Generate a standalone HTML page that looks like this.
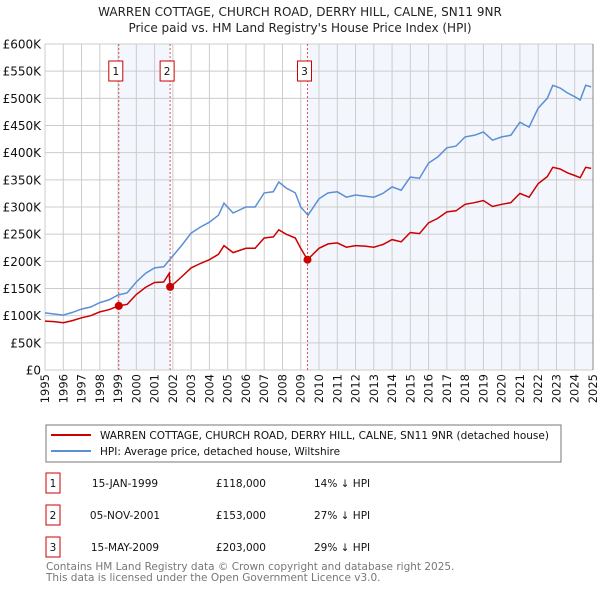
<!DOCTYPE html>
<html><head><meta charset="utf-8"><style>
body{margin:0;background:#fff;}
svg text{font-family:"DejaVu Sans","Liberation Sans",sans-serif;}
</style></head><body>
<svg id="c" width="600" height="590" xmlns="http://www.w3.org/2000/svg">
<text x="300" y="16" text-anchor="middle" font-size="12" fill="#222">WARREN COTTAGE, CHURCH ROAD, DERRY HILL, CALNE, SN11 9NR</text>
<text x="300" y="32" text-anchor="middle" font-size="12" fill="#222">Price paid vs. HM Land Registry's House Price Index (HPI)</text>
<g id="plot"></g>
<g>
<rect x="46" y="425" width="515" height="37" fill="#fff" stroke="#777"/>
<line x1="51" y1="435" x2="91" y2="435" stroke="#cc0000" stroke-width="2"/>
<text x="100" y="439" font-size="10.5" fill="#111">WARREN COTTAGE, CHURCH ROAD, DERRY HILL, CALNE, SN11 9NR (detached house)</text>
<line x1="51" y1="451" x2="91" y2="451" stroke="#5b8fd4" stroke-width="2"/>
<text x="100" y="455" font-size="10.5" fill="#111">HPI: Average price, detached house, Wiltshire</text>
</g>
<g id="table" font-size="10.5" fill="#111"></g>
<text x="46" y="570" font-size="10.5" fill="#777">Contains HM Land Registry data © Crown copyright and database right 2025.</text>
<text x="46" y="581" font-size="10.5" fill="#777">This data is licensed under the Open Government Licence v3.0.</text>
</svg>
<script>
const yTicks=[0,50,100,150,200,250,300,350,400,450,500,550,600];
const yTickLabels=["£0","£50K","£100K","£150K","£200K","£250K","£300K","£350K","£400K","£450K","£500K","£550K","£600K"];
const years=[1995,1996,1997,1998,1999,2000,2001,2002,2003,2004,2005,2006,2007,2008,2009,2010,2011,2012,2013,2014,2015,2016,2017,2018,2019,2020,2021,2022,2023,2024,2025];
const hpiT=[1995,1995.5,1996,1996.5,1997,1997.5,1998,1998.5,1999,1999.5,2000,2000.5,2001,2001.5,2002,2002.5,2003,2003.5,2004,2004.5,2004.8,2005.3,2006,2006.5,2007,2007.5,2007.8,2008.2,2008.7,2009,2009.4,2010,2010.5,2011,2011.5,2012,2012.5,2013,2013.5,2014,2014.5,2015,2015.5,2016,2016.5,2017,2017.5,2018,2018.5,2019,2019.5,2020,2020.5,2021,2021.5,2022,2022.5,2022.8,2023.2,2023.6,2024,2024.3,2024.6,2024.9];
const hpiV=[105,103,101,106,112,116,124,129,138,142,162,178,188,190,210,230,252,263,272,285,307,289,300,300,326,328,346,335,326,300,285,315,326,328,318,322,320,318,325,337,331,355,353,381,392,409,412,429,432,438,423,429,432,456,447,482,500,524,519,510,503,497,524,521];
const priceT=[1995,1995.5,1996,1996.5,1997,1997.5,1998,1998.5,1999.04,1999.5,2000,2000.5,2001,2001.5,2001.8,2001.85,2002,2002.5,2003,2003.5,2004,2004.5,2004.8,2005.3,2006,2006.5,2007,2007.5,2007.8,2008.2,2008.7,2009,2009.37,2010,2010.5,2011,2011.5,2012,2012.5,2013,2013.5,2014,2014.5,2015,2015.5,2016,2016.5,2017,2017.5,2018,2018.5,2019,2019.5,2020,2020.5,2021,2021.5,2022,2022.5,2022.8,2023.2,2023.6,2024,2024.3,2024.6,2024.9];
const priceV=[90,89,87,91,96,100,107,111,118,121,139,152,161,162,178,153,157,172,188,196,203,213,229,216,224,224,243,245,258,250,243,224,203,224,232,234,226,229,228,226,231,240,236,253,251,271,279,291,293,305,308,312,301,305,308,325,318,343,356,373,370,363,358,354,373,371];
const saleT=[1999.04,2001.85,2009.37];
const saleV=[118,153,203];
const saleLabels=["1","2","3"];
const saleDates=["15-JAN-1999","05-NOV-2001","15-MAY-2009"];
const salePrices=["£118,000","£153,000","£203,000"];
const saleDiffs=["14% ↓ HPI","27% ↓ HPI","29% ↓ HPI"];

const X0=45,X1=593,Y0=370,Y1=44;
const xs=t=>X0+(t-1995)/30*(X1-X0);
const ys=v=>Y0-v/600*(Y0-Y1);
const NS="http://www.w3.org/2000/svg";
const plot=document.getElementById('plot');
function mk(tag,attrs,parent){const e=document.createElementNS(NS,tag);for(const k in attrs)e.setAttribute(k,attrs[k]);(parent||plot).appendChild(e);return e;}

let bg=mk('rect',{x:X0,y:Y1,width:X1-X0,height:Y0-Y1,fill:'#fff'});


let sh1=mk('rect',{x:xs(saleT[0]),y:Y1,width:xs(saleT[1])-xs(saleT[0]),height:Y0-Y1,fill:'#f3f7fd'});


let sh2=mk('rect',{x:xs(saleT[2]),y:Y1,width:X1-xs(saleT[2]),height:Y0-Y1,fill:'#f3f7fd'});



yTicks.forEach((v,i)=>{
  let l=mk('line',{x1:X0,x2:X1,y1:ys(v),y2:ys(v),stroke:'#cccccc','stroke-width':1});
  
  
  let t=mk('text',{x:41,y:ys(v)+4.5,'text-anchor':'end','font-size':'12',fill:'#111'});
  t.textContent=yTickLabels[i];
  
  
});
years.forEach(y=>{
  let l=mk('line',{x1:xs(y),x2:xs(y),y1:Y1,y2:Y0,stroke:'#cccccc','stroke-width':1});
  
  
  let t=mk('text',{x:0,y:0,'text-anchor':'end','font-size':'11.5',fill:'#111',transform:`translate(${xs(y)+4},${Y0+4}) rotate(-90)`});
  t.textContent=String(y);
  
  
});
let rb=mk('line',{x1:X1,x2:X1,y1:Y1,y2:Y0,stroke:'#888','stroke-width':1});



saleT.forEach((t,i)=>{
  let l=mk('line',{x1:xs(t),x2:xs(t),y1:Y1,y2:Y0,stroke:'#e05555','stroke-width':1,'stroke-dasharray':'2,2'});
  
  
  let bx=xs(t)-10;
  let r=mk('rect',{x:bx,y:61,width:14,height:20,fill:'#fff',stroke:'#cc0000'});
  
  
  let tx=mk('text',{x:bx+7,y:75,'text-anchor':'middle','font-size':'10.5',fill:'#111'});
  tx.textContent=saleLabels[i];
  
  
});

let hp=mk('path',{d:hpiT.map((t,i)=>(i?'L':'M')+xs(t).toFixed(1)+','+ys(hpiV[i]).toFixed(1)).join(''),fill:'none',stroke:'#5b8fd4','stroke-width':1.5});


let pp=mk('path',{d:priceT.map((t,i)=>(i?'L':'M')+xs(t).toFixed(1)+','+ys(priceV[i]).toFixed(1)).join(''),fill:'none',stroke:'#cc0000','stroke-width':1.5});


saleT.forEach((t,i)=>{
  let c=mk('circle',{cx:xs(t),cy:ys(saleV[i]),r:4,fill:'#cc0000'});
  
  
});

const tbl=document.getElementById('table');
const rowY=[485,517,549];
saleLabels.forEach((s,i)=>{
  let r=mk('rect',{x:46,y:rowY[i]-12,width:14,height:20,fill:'#fff',stroke:'#cc0000'},tbl);
  
  
  let a=mk('text',{x:53,y:rowY[i]+2,'text-anchor':'middle'},tbl);a.textContent=s;
  
  
  let d=mk('text',{x:125,y:rowY[i]+2,'text-anchor':'middle'},tbl);d.textContent=saleDates[i];
  
  
  let p=mk('text',{x:266,y:rowY[i]+2,'text-anchor':'end'},tbl);p.textContent=salePrices[i];
  
  
  let h=mk('text',{x:314,y:rowY[i]+2},tbl);h.textContent=saleDiffs[i];
  
  
});
</script>
</body></html>
